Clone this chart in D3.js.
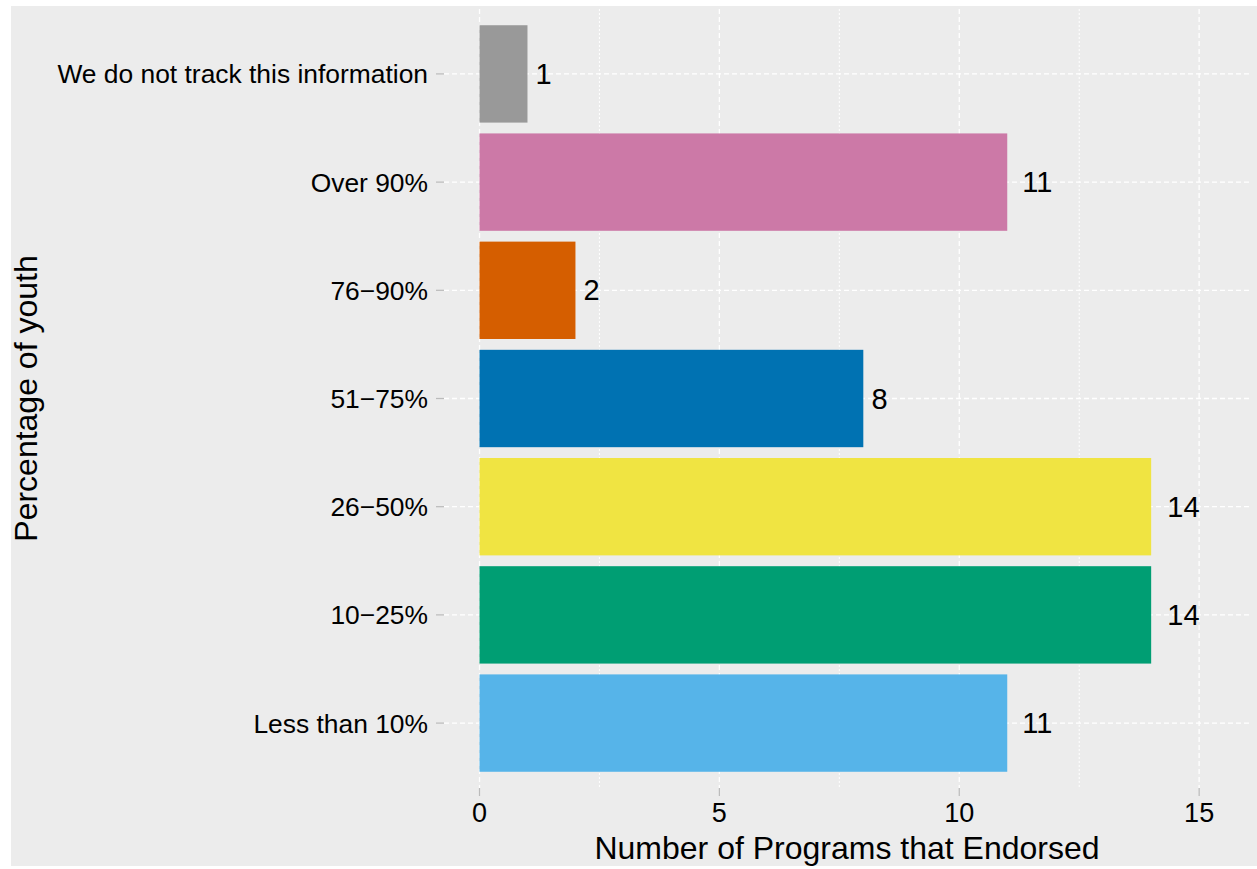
<!DOCTYPE html>
<html><head><meta charset="utf-8">
<script src="https://cdn.jsdelivr.net/npm/d3@7/dist/d3.min.js"></script>
<style>body{margin:0;background:#fff}svg{display:block}text{font-family:"Liberation Sans",Arial,Helvetica,sans-serif}</style>
</head><body><svg id="c" width="1257" height="869"></svg>
<script>
const categories = ["We do not track this information","Over 90%","76\u221290%","51\u221275%","26\u221250%","10\u221225%","Less than 10%"];
const values = [1,11,2,8,14,14,11];
const colors = ["#999999","#CC79A7","#D55E00","#0072B2","#F0E442","#009E73","#56B4E9"];
const xTicks = [0,5,10,15];
const xMinor = [2.5,7.5,12.5];
const xTitle = "Number of Programs that Endorsed";
const yTitle = "Percentage of youth";

const svg = d3.select("#c");
svg.append("rect").attr("x",11).attr("y",6).attr("width",1246).attr("height",860).attr("fill","#ECECEC");

const L=444,R=1250,T=9,B=788;
const x = d3.scaleLinear().domain([-0.74,16.06]).range([L,R]);
const y = d3.scaleBand().domain(categories).range([T,B]).paddingInner(0.1).paddingOuter(0.15);

const g = svg.append("g");
g.selectAll(".mn").data(xMinor).join("line").attr("x1",d=>x(d)).attr("x2",d=>x(d)).attr("y1",T).attr("y2",B)
 .attr("stroke","#fff").attr("stroke-width",1).attr("stroke-dasharray","2,2");
g.selectAll(".mj").data(xTicks).join("line").attr("x1",d=>x(d)).attr("x2",d=>x(d)).attr("y1",T).attr("y2",B)
 .attr("stroke","#fff").attr("stroke-width",1.3).attr("stroke-dasharray","5,3");
g.selectAll(".hg").data(categories).join("line").attr("x1",L).attr("x2",R)
 .attr("y1",d=>y(d)+y.bandwidth()/2).attr("y2",d=>y(d)+y.bandwidth()/2)
 .attr("stroke","#fff").attr("stroke-width",1.3).attr("stroke-dasharray","5,3");

g.selectAll(".bar").data(categories).join("rect")
 .attr("x",x(0)).attr("y",d=>y(d)).attr("height",y.bandwidth())
 .attr("width",(d,i)=>x(values[i])-x(0)).attr("fill",(d,i)=>colors[i]);

g.selectAll(".vl").data(categories).join("text")
 .attr("y",d=>y(d)+y.bandwidth()/2).attr("dy","0.35em")
 .attr("font-size",29).attr("fill","#000")
 .text((d,i)=>values[i])
 .each(function(d,i){const w=this.getComputedTextLength(); d3.select(this).attr("x",x(values[i])+0.5*w);});

const ya = svg.append("g");
ya.selectAll("line").data(categories).join("line").attr("x1",L-8).attr("x2",L)
 .attr("y1",d=>y(d)+y.bandwidth()/2).attr("y2",d=>y(d)+y.bandwidth()/2).attr("stroke","#BBBBBB").attr("stroke-width",1.2);
ya.selectAll("text").data(categories).join("text").attr("x",L-16).attr("y",d=>y(d)+y.bandwidth()/2)
 .attr("dy","0.36em").attr("text-anchor","end").attr("font-size",26.4).attr("fill","#000").text(d=>d);

const xa = svg.append("g");
xa.selectAll("line").data(xTicks).join("line").attr("x1",d=>x(d)).attr("x2",d=>x(d)).attr("y1",B).attr("y2",B+8)
 .attr("stroke","#BBBBBB").attr("stroke-width",1.2);
xa.selectAll("text").data(xTicks).join("text").attr("x",d=>x(d)).attr("y",812).attr("dy","0.36em")
 .attr("text-anchor","middle").attr("font-size",27).attr("fill","#000").text(d=>d);

svg.append("text").attr("x",(L+R)/2).attr("y",848).attr("dy","0.35em").attr("text-anchor","middle")
 .attr("font-size",32).attr("fill","#000").text(xTitle);
svg.append("text").attr("transform",`translate(26,${(T+B)/2}) rotate(-90)`).attr("dy","0.35em").attr("text-anchor","middle")
 .attr("font-size",32).attr("fill","#000").text(yTitle);
</script></body></html>
